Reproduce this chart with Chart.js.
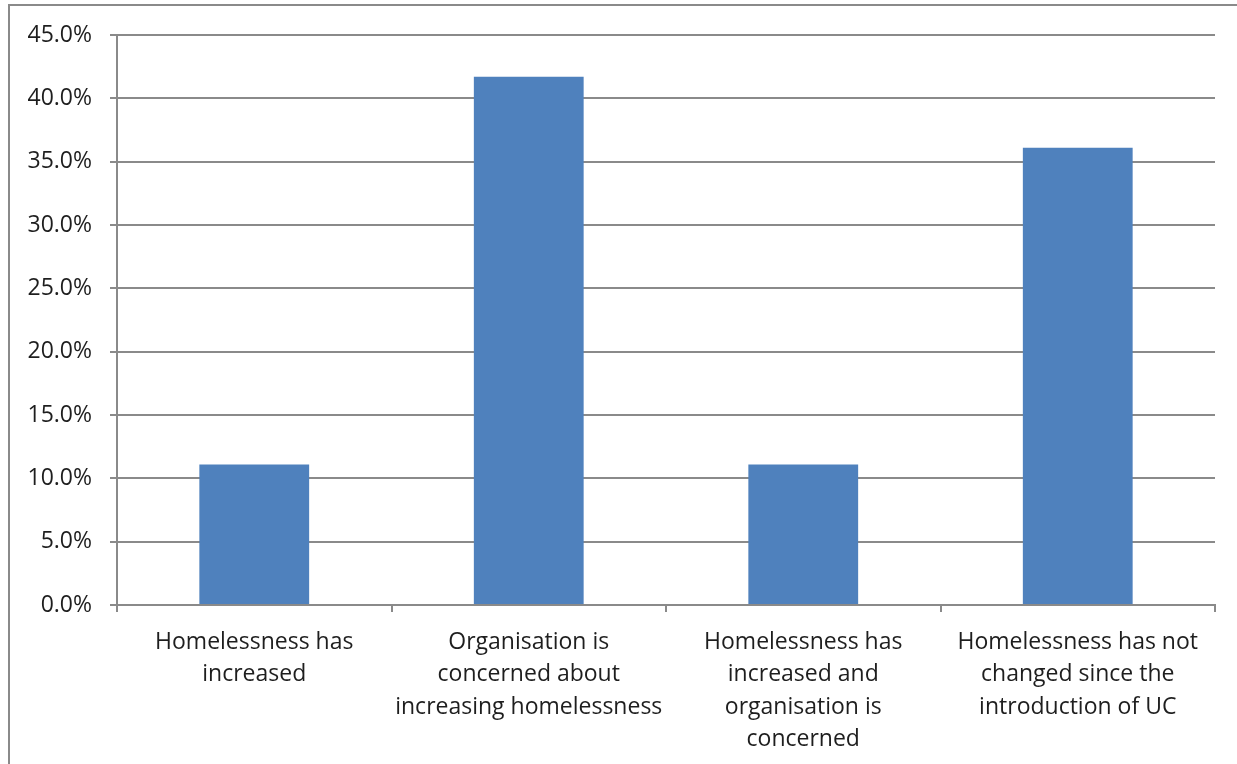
<!DOCTYPE html>
<html>
<head>
<meta charset="utf-8">
<script src="https://cdn.jsdelivr.net/npm/chart.js@4/dist/chart.umd.min.js"></script>
<style>
  html, body { margin: 0; padding: 0; background: #fff; overflow: hidden; }
  #frame { position: absolute; left: 8px; top: 4px; width: 1300px; height: 900px; border: 2px solid #8a8a8a; }
  #wrap { position: absolute; left: 0; top: 0; width: 1237px; height: 764px; }
</style>
</head>
<body>
<div id="frame"></div>
<div id="wrap"><canvas id="c" width="1237" height="764"></canvas></div>
<script>
const categories = [
  ["Homelessness has", "increased"],
  ["Organisation is", "concerned about", "increasing homelessness"],
  ["Homelessness has", "increased and", "organisation is", "concerned"],
  ["Homelessness has not", "changed since the", "introduction of UC"]
];
const values = [11.1, 41.7, 11.1, 36.1];
const yTicks = [0, 5, 10, 15, 20, 25, 30, 35, 40, 45];

const gridGray = '#8a8a8a';
const textColor = '#1e1e1e';
const font = { family: '"Open Sans", sans-serif', size: 23 };

new Chart(document.getElementById('c'), {
  type: 'bar',
  data: {
    labels: categories,
    datasets: [{
      data: values,
      backgroundColor: '#4F81BD',
      borderWidth: 0,
      categoryPercentage: 1.0,
      barPercentage: 0.4
    }]
  },
  options: {
    responsive: false,
    animation: false,
    devicePixelRatio: 1,
    layout: { padding: { left: 0, right: 22, top: 35, bottom: 0 } },
    plugins: { legend: { display: false }, tooltip: { enabled: false }, title: { display: false } },
    scales: {
      x: {
        afterFit: s => { s.height = 159; },
        grid: { offset: true, drawOnChartArea: false, drawTicks: true, tickLength: 7, color: gridGray, lineWidth: 2 },
        border: { display: true, color: gridGray, width: 2 },
        ticks: { color: textColor, font: { ...font, lineHeight: 1.41 }, padding: 14, maxRotation: 0, autoSkip: false }
      },
      y: {
        min: 0, max: 45,
        afterFit: s => { s.width = 117; },
        afterBuildTicks: s => { s.ticks = yTicks.map(v => ({ value: v })); },
        grid: { drawTicks: true, tickLength: 7, color: gridGray, lineWidth: 2 },
        border: { display: true, color: gridGray, width: 2 },
        ticks: { color: textColor, font: font, padding: 18, callback: v => v.toFixed(1) + '%' }
      }
    }
  }
});
</script>
</body>
</html>
